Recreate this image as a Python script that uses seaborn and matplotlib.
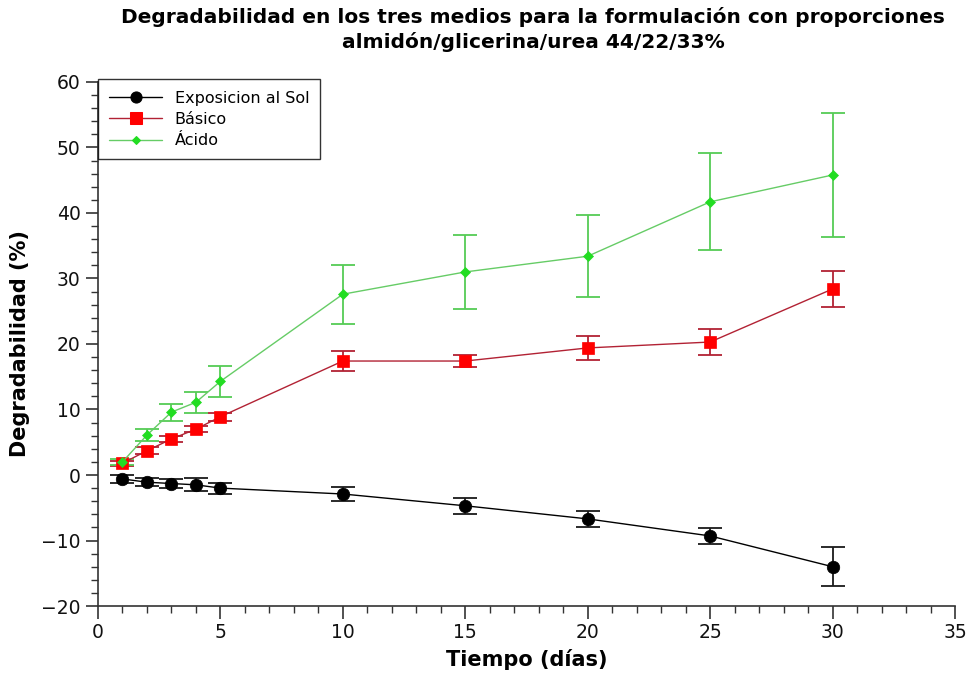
import numpy as np
import pandas as pd
import matplotlib
matplotlib.use("Agg")
import matplotlib.pyplot as plt
from matplotlib.ticker import MultipleLocator
import seaborn as sns

dias = [1, 2, 3, 4, 5, 10, 15, 20, 25, 30]
sol = [-0.6, -1.1, -1.3, -1.5, -2.0, -2.9, -4.7, -6.7, -9.3, -14.0]
sol_err = [0.6, 0.6, 0.7, 1.0, 0.85, 1.1, 1.2, 1.2, 1.2, 3.0]
basico = [1.8, 3.7, 5.5, 7.0, 8.9, 17.4, 17.4, 19.4, 20.3, 28.4]
basico_err = [0.4, 0.5, 0.5, 0.5, 0.6, 1.5, 0.9, 1.8, 2.0, 2.8]
acido = [2.0, 6.1, 9.6, 11.1, 14.3, 27.6, 31.0, 33.4, 41.7, 45.8]
acido_err = [0.4, 0.9, 1.3, 1.6, 2.4, 4.5, 5.7, 6.3, 7.4, 9.4]

series_names = ["Exposicion al Sol", "Básico", "Ácido"]

df = pd.DataFrame({
    "Tiempo": dias * 3,
    "Degradabilidad": sol + basico + acido,
    "err": sol_err + basico_err + acido_err,
    "Serie": [series_names[0]] * len(dias) + [series_names[1]] * len(dias) + [series_names[2]] * len(dias),
})

sns.set_theme(style="ticks")
plt.rcParams['font.family'] = ['DejaVu Sans']
plt.rcParams['text.color'] = '#000000'
plt.rcParams['axes.labelcolor'] = '#000000'

fig = plt.figure(figsize=(9.73, 6.86), dpi=100)
ax = fig.add_axes([0.1007, 0.1166, 0.8808, 0.7639])

styles = {
    "Exposicion al Sol": dict(line="#000000", mfc="#000000", ecolor="#1a1a1a", marker="o", ms=9),
    "Básico": dict(line="#b22234", mfc="#ff0000", ecolor="#b22234", marker="s", ms=9),
    "Ácido": dict(line="#66cc66", mfc="#22dd22", ecolor="#55cc55", marker="D", ms=5),
}

palette = {n: styles[n]["line"] for n in series_names}
markers = {n: styles[n]["marker"] for n in series_names}
sns.lineplot(data=df, x="Tiempo", y="Degradabilidad", hue="Serie", style="Serie",
             hue_order=series_names, style_order=series_names,
             palette=palette, markers=markers, dashes=False, linewidth=1.0,
             markersize=8, ax=ax, zorder=3, legend=True)

series_lines = list(ax.get_lines())[:3]
for name, line in zip(series_names, series_lines):
    st = styles[name]
    line.set_markerfacecolor(st["mfc"])
    line.set_markeredgecolor(st["mfc"])
    line.set_markeredgewidth(0.5)
    line.set_markersize(st["ms"])

for name in series_names:
    sub = df[df["Serie"] == name]
    st = styles[name]
    ax.errorbar(sub["Tiempo"], sub["Degradabilidad"], yerr=sub["err"], fmt="none",
                ecolor=st["ecolor"], elinewidth=1.3, capsize=8.5, capthick=1.3, zorder=2)

ax.set_xlim(0, 35)
ax.set_ylim(-20, 60)
ax.xaxis.set_major_locator(MultipleLocator(5))
ax.xaxis.set_minor_locator(MultipleLocator(1))
ax.yaxis.set_major_locator(MultipleLocator(10))
ax.yaxis.set_minor_locator(MultipleLocator(2))
ax.tick_params(axis="both", which="major", length=9, width=1.2, labelsize=13.5, color="#333333", labelcolor="#111111")
ax.tick_params(axis="both", which="minor", length=5, width=1.0, color="#333333")
sns.despine(ax=ax)
for sp in ["left", "bottom"]:
    ax.spines[sp].set_color("#333333")
    ax.spines[sp].set_linewidth(1.2)

ax.set_xlabel("Tiempo (días)", fontsize=15, fontweight="bold", labelpad=5)
ax.set_ylabel("Degradabilidad (%)", fontsize=15, fontweight="bold", labelpad=8)
fig.suptitle("Degradabilidad en los tres medios para la formulación con proporciones\nalmidón/glicerina/urea 44/22/33%",
             x=0.548, y=0.99, fontsize=14.5, fontweight="bold", linespacing=1.3)

handles, labels = ax.get_legend_handles_labels()
for h, name in zip(handles, labels):
    if name in styles:
        h.set_markerfacecolor(styles[name]["mfc"])
        h.set_markeredgecolor(styles[name]["mfc"])
        h.set_markersize(styles[name]["ms"] - 1)
leg = ax.legend(handles, labels, loc="upper left", bbox_to_anchor=(0.0, 1.005), borderaxespad=0.0,
                frameon=True, fancybox=False, fontsize=11.5, handlelength=3.3,
                labelspacing=0.4, borderpad=0.7, edgecolor="#000000")
leg.get_frame().set_linewidth(1.0)
for t in leg.get_texts():
    t.set_color("#000000")

fig.savefig("out.png", dpi=100)
